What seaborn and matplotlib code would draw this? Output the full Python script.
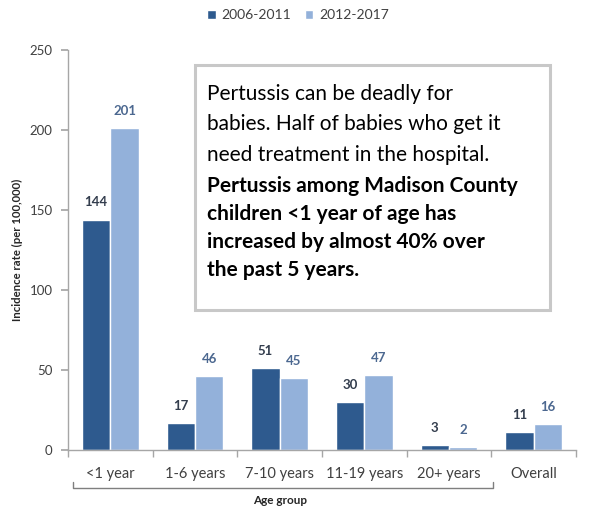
import pandas as pd
import seaborn as sns
import matplotlib.pyplot as plt
from matplotlib.transforms import blended_transform_factory

# data
age_groups = ["<1 year", "1-6 years", "7-10 years", "11-19 years", "20+ years", "Overall"]
periods = ["2006-2011", "2012-2017"]
rate_2006_2011 = [144, 17, 51, 30, 3, 11]
rate_2012_2017 = [201, 46, 45, 47, 2, 16]

note_plain = "Pertussis can be deadly for\nbabies. Half of babies who get it\nneed treatment in the hospital."
note_bold = "Pertussis among Madison County\nchildren <1 year of age has\nincreased by almost 40% over\nthe past 5 years."

df = pd.DataFrame({
    "age": age_groups * 2,
    "period": [periods[0]] * len(age_groups) + [periods[1]] * len(age_groups),
    "rate": rate_2006_2011 + rate_2012_2017,
})

sns.set_theme(style="white")
plt.rcParams["font.family"] = ["Lato", "DejaVu Sans"]

dark = "#2E5A8E"
light = "#93B1DA"
axis_gray = "#A6A6A6"
text_gray = "#404040"

fig = plt.figure(figsize=(5.9, 5.08), dpi=100)
ax = fig.add_axes([68 / 590, 1 - 450 / 508, 508 / 590, 400 / 508])

sns.barplot(data=df, x="age", y="rate", hue="period", order=age_groups,
            hue_order=periods, palette=[dark, light], width=0.67,
            saturation=1, ax=ax, legend=True)

ax.set_xlim(-0.5, 5.5)
ax.set_ylim(0, 250)
ax.set_yticks(range(0, 251, 50))
ax.tick_params(axis="y", length=5, color=axis_gray, labelsize=9.5,
               labelcolor=text_gray, direction="out", left=True, pad=6)
ax.set_xticks(range(6))
ax.set_xticklabels(age_groups)
ax.tick_params(axis="x", length=0, labelsize=10.5, labelcolor=text_gray, pad=12)
ax.set_xticks([i - 0.5 for i in range(7)], minor=True)
ax.tick_params(axis="x", which="minor", length=5, color=axis_gray,
               direction="out", bottom=True)

for side in ["top", "right"]:
    ax.spines[side].set_visible(False)
for side in ["left", "bottom"]:
    ax.spines[side].set_color(axis_gray)
    ax.spines[side].set_linewidth(1)

ax.set_xlabel("")
ax.set_ylabel("Incidence rate (per 100,000)", fontsize=8.2, fontweight="bold",
              color="#262626", labelpad=5)

# value labels
label_colors = ["#333D4D", "#4C6890"]
for cont, col in zip(ax.containers, label_colors):
    ax.bar_label(cont, fmt="%d", padding=8, fontsize=9.5, fontweight="bold", color=col)

# legend at the top of the figure
handles, labels = ax.get_legend_handles_labels()
ax.get_legend().remove()
fig.legend(handles, labels, loc="center", bbox_to_anchor=(298 / 590, 1 - 15 / 508),
           ncol=2, frameon=False, fontsize=10, handlelength=0.6, handleheight=0.6,
           handletextpad=0.4, columnspacing=1.0, labelcolor=text_gray)

# bracket under the age groups
tr = blended_transform_factory(ax.transData, ax.transAxes)
bx0, bx1 = -0.44, 4.52
ax.plot([bx0, bx0, bx1, bx1], [-0.08, -0.095, -0.095, -0.08], color="#7F7F7F",
        lw=1, transform=tr, clip_on=False)
ax.text(2.0, -0.127, "Age group", transform=tr, ha="center", va="center",
        fontsize=8.5, fontweight="bold", color="#262626")

# annotation box
box = plt.Rectangle((195 / 590, 1 - 310 / 508), 355 / 590, 245 / 508,
                    transform=fig.transFigure, facecolor="white",
                    edgecolor="#C8C8C8", linewidth=2.2, zorder=5)
fig.add_artist(box)
fig.text(207 / 590, 1 - 84 / 508, note_plain, fontsize=15, color="black",
         va="top", ha="left", linespacing=1.65, zorder=6)
fig.text(207 / 590, 1 - 176 / 508, note_bold, fontsize=15, fontweight="bold",
         color="black", va="top", ha="left", linespacing=1.5, zorder=6)

fig.savefig("out.png", dpi=100)
